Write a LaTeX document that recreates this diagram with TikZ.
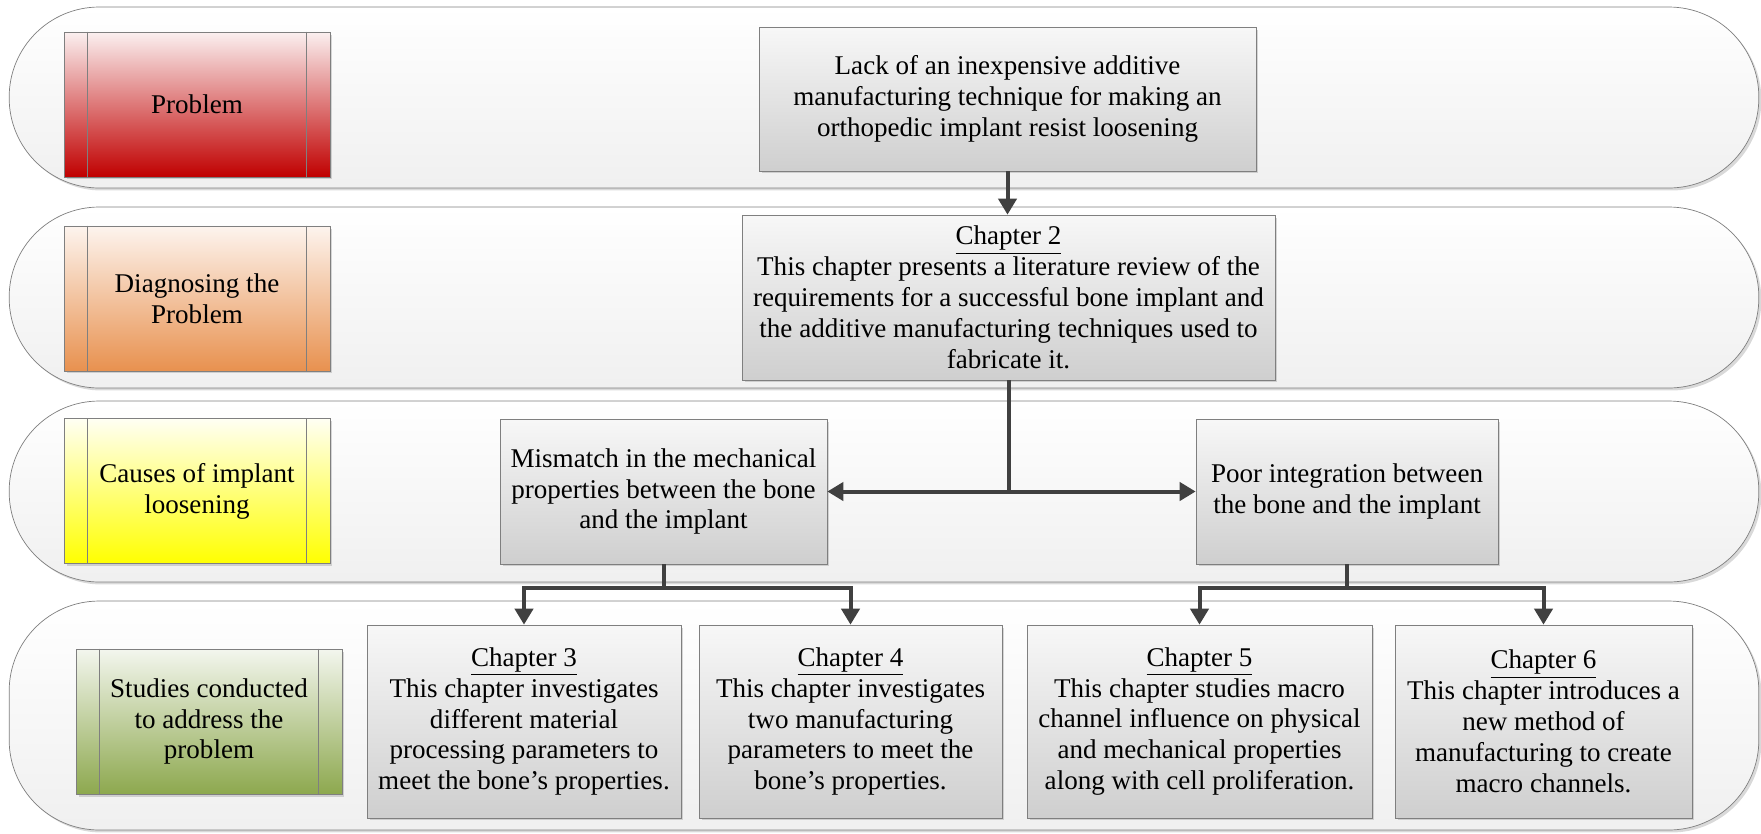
\documentclass[tikz,border=0pt]{standalone}
\usepackage{fontspec}
\setmainfont{Liberation Serif}
\usetikzlibrary{arrows.meta,shadows,calc}

\definecolor{arrowgray}{HTML}{404040}
\definecolor{edgegray}{HTML}{7F7F7F}
\definecolor{probtop}{HTML}{FBF0F0}
\definecolor{probbot}{HTML}{C00000}
\definecolor{diagtop}{HTML}{FDF4EE}
\definecolor{diagbot}{HTML}{E8914F}
\definecolor{causetop}{HTML}{FFFFF4}
\definecolor{causebot}{HTML}{FFFF00}
\definecolor{studytop}{HTML}{F3F6EE}
\definecolor{studybot}{HTML}{8DA84E}

\begin{document}
\begin{tikzpicture}[x=0.02cm,y=-0.02cm,
  every node/.style={font=\fontsize{15.4}{17.6}\selectfont, align=center},
  softshadow/.style={drop shadow={shadow xshift=0.05cm, shadow yshift=-0.05cm, opacity=0.3}},
  lane/.style={draw=edgegray, rounded corners=1.8cm, minimum width=35cm,
    top color=white, bottom color=black!6, softshadow},
  stage/.style={draw=edgegray, minimum width=5.32cm, minimum height=2.9cm, softshadow},
  infobox/.style={draw=edgegray, top color=black!3, bottom color=black!19, softshadow},
  conn/.style={draw=arrowgray, line width=0.08cm},
  arr/.style={conn, -{Triangle[width=0.36cm,length=0.32cm]}},
  dblarr/.style={conn, {Triangle[width=0.36cm,length=0.32cm]}-{Triangle[width=0.36cm,length=0.32cm]}}
]
  \useasboundingbox (0,0) rectangle (1761,833);

  % swim lanes
  \node[lane, minimum height=3.62cm] (lane1) at (884,97.5) {};
  \node[lane, minimum height=3.62cm] (lane2) at (884,297.5) {};
  \node[lane, minimum height=3.62cm] (lane3) at (884,491.5) {};
  \node[lane, minimum height=4.58cm] (lane4) at (884,715.5) {};

  % stage labels
  \node[stage, top color=probtop, bottom color=probbot] (prob) at (197,104.5) {Problem};
  \node[stage, top color=diagtop, bottom color=diagbot] (diag) at (197,298.5) {Diagnosing the\\Problem};
  \node[stage, top color=causetop, bottom color=causebot] (cause) at (197,491) {Causes of implant\\loosening};
  \node[stage, top color=studytop, bottom color=studybot] (study) at (209,721.5) {Studies conducted\\to address the\\problem};

  \foreach \s in {prob,diag,cause,study} {
    \draw[edgegray] ([xshift=0.48cm]\s.north west) -- ([xshift=0.48cm]\s.south west);
    \draw[edgegray] ([xshift=-0.48cm]\s.north east) -- ([xshift=-0.48cm]\s.south east);
  }

  % content boxes
  \node[infobox, minimum width=9.94cm, minimum height=2.88cm] (lack) at (1007.5,99)
    {Lack of an inexpensive additive\\manufacturing technique for making an\\orthopedic implant resist loosening};
  \node[infobox, minimum width=10.66cm, minimum height=3.3cm] (ch2) at (1008.5,297.5)
    {\underline{Chapter 2}\\This chapter presents a literature review of the\\requirements for a successful bone implant and\\the additive manufacturing techniques used to\\fabricate it.};
  \node[infobox, minimum width=6.54cm, minimum height=2.9cm] (mis) at (663.5,491.5)
    {Mismatch in the mechanical\\properties between the bone\\and the implant};
  \node[infobox, minimum width=6.04cm, minimum height=2.9cm] (poor) at (1347,491.5)
    {Poor integration between\\the bone and the implant};
  \node[infobox, minimum width=6.28cm, minimum height=3.86cm] (ch3) at (524,721.5)
    {\underline{Chapter 3}\\This chapter investigates\\different material\\processing parameters to\\meet the bone’s properties.};
  \node[infobox, minimum width=6.06cm, minimum height=3.86cm] (ch4) at (850.5,721.5)
    {\underline{Chapter 4}\\This chapter investigates\\two manufacturing\\parameters to meet the\\bone’s properties.};
  \node[infobox, minimum width=6.9cm, minimum height=3.86cm] (ch5) at (1199.5,721.5)
    {\underline{Chapter 5}\\This chapter studies macro\\channel influence on physical\\and mechanical properties\\along with cell proliferation.};
  \node[infobox, minimum width=5.94cm, minimum height=3.86cm] (ch6) at (1543.5,721.5)
    {\underline{Chapter 6}\\This chapter introduces a\\new method of\\manufacturing to create\\macro channels.};

  % junctions
  \coordinate (split) at (ch2.south |- mis.east);
  \coordinate (mjoin) at ($(mis.south)+(0,24)$);
  \coordinate (pjoin) at ($(poor.south)+(0,24)$);

  \draw[arr] (lack.south) -- (lack.south |- ch2.north);
  \draw[conn] (ch2.south) -- (split);
  \draw[dblarr] (mis.east) -- (poor.west);

  \draw[conn] (mis.south) -- (mjoin);
  \draw[arr] (mjoin) -| (ch3.north);
  \draw[arr] (mjoin) -| (ch4.north);

  \draw[conn] (poor.south) -- (pjoin);
  \draw[arr] (pjoin) -| (ch5.north);
  \draw[arr] (pjoin) -| (ch6.north);
\end{tikzpicture}
\end{document}
